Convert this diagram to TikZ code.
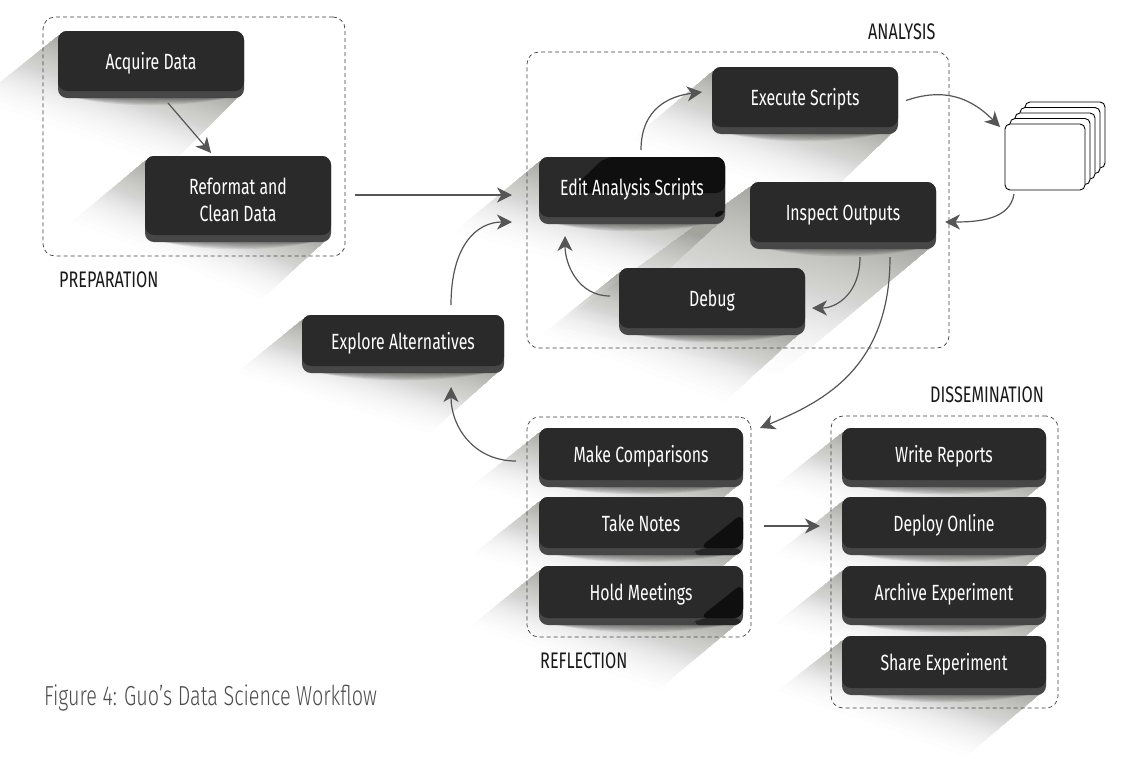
\documentclass[tikz,border=0pt]{standalone}
\usepackage{fontspec}
\setmainfont[FakeStretch=0.72]{Fira Sans}
\newfontfamily\lightf[FakeStretch=0.72]{Fira Sans Light}
\usetikzlibrary{calc,arrows.meta,backgrounds}
\definecolor{facec}{HTML}{2A2A2A}
\definecolor{bandc}{HTML}{474747}
\definecolor{shadc}{HTML}{A2A39A}
\definecolor{linec}{HTML}{555555}
\definecolor{darkc}{HTML}{0F0F0F}
\tikzset{
 bandbox/.style={rounded corners=9pt,fill=bandc,inner sep=0pt,outer sep=0pt},
 facebox/.style={rounded corners=9pt,fill=facec,inner sep=0pt,outer sep=0pt,text=white,align=center,font=\fontsize{22}{26.5}\selectfont,text height=17pt,text depth=0pt},
 groupbox/.style={draw=black!75,line width=0.7pt,dash pattern=on 4pt off 3pt,rounded corners=12pt,inner sep=0pt,outer sep=0pt},
 grouplabel/.style={anchor=west,inner sep=0pt,text=black!90,font=\fontsize{22.5}{26}\selectfont},
 cardbox/.style={draw=black,fill=white,line width=0.9pt,rounded corners=5pt,minimum width=80pt,minimum height=66pt,inner sep=0pt,outer sep=0pt},
 flow/.style={draw=linec,line width=1.2pt,-{Stealth[length=15pt,width=15pt,inset=4.5pt]}},
 darkcorner/.style={path picture={\fill[darkc] (path picture bounding box.south east) -- ++(0,-35) -- ++(-44,35) -- cycle;}},
 darkcornerband/.style={path picture={\fill[black!85] (path picture bounding box.south east) -- ++(0,-7) -- ++(-44,0) -- ++(-8,7) -- cycle;}},
 darkedit/.style={path picture={\fill[darkc] (path picture bounding box.north east) -- ++(-120,0) -- ++(-37,36) -- ++(157,0) -- cycle;
   \fill[darkc] (path picture bounding box.south east) -- ++(0,-10) -- ++(-15,10) -- cycle;}},
}
\newcommand\dbox[8]{%
 \pgfmathsetmacro\bw{#4-#2}\pgfmathsetmacro\bh{#5-#3}\pgfmathsetmacro\fh{\bh-7}%
 \pgfmathsetmacro\cx{(#2+#4)/2}\pgfmathsetmacro\cy{(#3+#5)/2}%
 \node[bandbox,minimum width=\bw pt,minimum height=\bh pt,#7] (#1) at (\cx,\cy) {};
 \node[facebox,minimum width=\bw pt,minimum height=\fh pt,anchor=north,#8] (#1-face) at (#1.north) {#6};
}
% box name, then the two tip vectors of the long shadow, fading by nested layers
\newcommand\lshadow[5]{%
 \foreach \i in {1,...,70}{%
  \pgfmathsetmacro\t{1-(\i/70)^0.4}%
  \fill[shadc,fill opacity=0.018] ($(#1.north west)+(1,4)$) -- ($(#1.north west)+(1,4)+\t*(-#2,#3)$) -- ($(#1.south east)+(-5,-2)+\t*(-#4,#5)$) -- ($(#1.south east)+(-5,-2)$) -- cycle;
 }
 \foreach \t in {1.0,0.85,0.7,0.55,0.4,0.25}{%
  \fill[black,fill opacity=0.08] ($(#1.south west)+(14,-1)$) .. controls +(45,\t*11) and +(-45,\t*11) .. ($(#1.south east)+(-14,-1)$) -- cycle;
 }
}
\begin{document}
\begin{tikzpicture}[x=1pt,y=-1pt]
\useasboundingbox (0,0) rectangle (1145,758);
% groups
\node[groupbox,minimum width=302pt,minimum height=239pt] (gprep) at (194,136.5) {};
\node[groupbox,minimum width=422pt,minimum height=296pt] (gana) at (738,200) {};
\node[groupbox,minimum width=224pt,minimum height=220pt] (gref) at (639,527) {};
\node[groupbox,minimum width=227pt,minimum height=292pt] (gdis) at (944.5,562) {};
\node[grouplabel] (lprep) at (59,280) {PREPARATION};
\node[grouplabel] (lana) at (868,32) {ANALYSIS};
\node[grouplabel] (lref) at (540,661) {REFLECTION};
\node[grouplabel] (ldis) at (930,395) {DISSEMINATION};
\node[anchor=west,inner sep=0pt,text=black!70,font=\lightf\fontsize{27.5}{30}\selectfont] (cap) at (44,698) {Figure 4: Guo’s Data Science Workflow};
% boxes
\dbox{acq}{58}{31}{244}{98}{Acquire Data}{}{}
\dbox{ref}{145}{156}{331}{242}{Reformat and\\Clean Data}{}{text height=51pt}
\dbox{exec}{712}{67}{898}{134}{Execute Scripts}{}{}
\dbox{edit}{539}{157}{725}{224}{Edit Analysis Scripts}{}{darkedit}
\dbox{insp}{750}{182}{936}{249}{Inspect Outputs}{}{}
\dbox{debug}{619}{268}{805}{335}{Debug}{}{}
\dbox{expl}{302}{315}{504}{373}{Explore Alternatives}{}{}
\dbox{make}{539}{428}{743}{487}{Make Comparisons}{}{}
\dbox{notes}{539}{497}{743}{555}{Take Notes}{darkcornerband}{darkcorner}
\dbox{meet}{539}{566}{743}{625}{Hold Meetings}{darkcornerband}{darkcorner}
\dbox{write}{842}{428}{1046}{487}{Write Reports}{}{}
\dbox{deploy}{842}{497}{1046}{555}{Deploy Online}{}{}
\dbox{arch}{842}{566}{1046}{625}{Archive Experiment}{}{}
\dbox{share}{842}{636}{1046}{695}{Share Experiment}{}{}
% cards
\node[cardbox] (card5) at (1065,135) {};
\node[cardbox] (card4) at (1060,140.5) {};
\node[cardbox] (card3) at (1055,146) {};
\node[cardbox] (card2) at (1050,151.5) {};
\node[cardbox] (card1) at (1045,157) {};
% connectors
\draw[flow] ($(acq.south)+(17,5)$) -- ($(ref.north)+(-27,-3)$);
\draw[flow] ($(ref.east)+(24,-4)$) -- ($(edit.west)+(-27,4.5)$);
\draw[flow] ($(expl.north)+(48,-10)$) .. controls +(0,-60) and +(-35,0) .. ($(edit.west)+(-27,31.5)$);
\draw[flow] ($(edit.north)+(9,-7)$) .. controls +(0,-42) and +(-32,4) .. ($(exec.west)+(-10,-8.5)$);
\draw[flow] ($(exec.east)+(8,0)$) .. controls +(35,-12) and +(-32,-32) .. ($(card1.north west)+(-5,3)$);
\draw[flow] ($(card1.south)+(-31,4)$) .. controls +(-4,26) and +(32,0) .. ($(insp.east)+(9,6.5)$);
\draw[flow] ($(insp.south)+(17,8)$) .. controls +(0,36) and +(25,0) .. ($(debug.east)+(7,6.5)$);
\draw[flow] ($(debug.west)+(-9,-5.5)$) .. controls +(-32,0) and +(0,28) .. ($(edit.south)+(-67,12)$);
\draw[flow] ($(insp.south)+(47,8)$) .. controls +(0,112) and +(62,-26) .. ($(make.north east)+(17,0)$);
\draw[flow] ($(make.west)+(-23,3.5)$) .. controls +(-42,0) and +(0,40) .. ($(expl.south)+(48,14)$);
\draw[flow] ($(notes.east)+(21,0)$) -- ($(deploy.west)+(-22,0)$);
% long shadows
\begin{scope}[on background layer]
\fill[white] (0,0) rectangle (1145,758);
\clip (0,0) rectangle (1145,758);
\lshadow{acq}{100}{80}{85}{85}
\lshadow{ref}{90}{75}{78}{72}
\lshadow{exec}{100}{84}{88}{85}
\lshadow{edit}{104}{86}{85}{78}
\lshadow{insp}{240}{172}{185}{155}
\lshadow{debug}{95}{76}{92}{84}
\lshadow{expl}{80}{65}{85}{76}
\lshadow{make}{82}{65}{82}{70}
\lshadow{notes}{82}{65}{82}{70}
\lshadow{meet}{84}{68}{98}{82}
\lshadow{write}{82}{65}{82}{70}
\lshadow{deploy}{82}{65}{82}{70}
\lshadow{arch}{82}{65}{82}{70}
\lshadow{share}{80}{62}{92}{78}
\end{scope}
\end{tikzpicture}
\end{document}
